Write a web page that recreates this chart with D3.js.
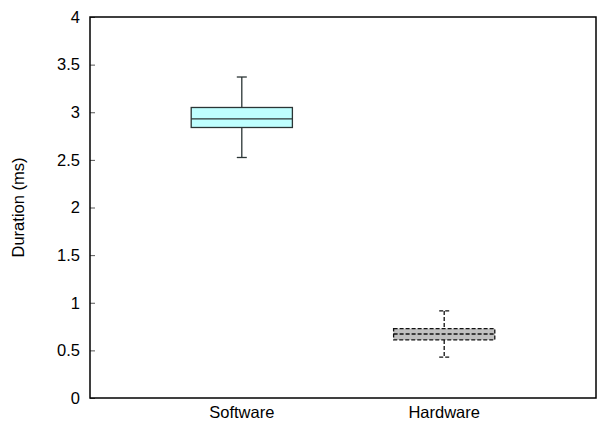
<!DOCTYPE html>
<html>
<head>
<meta charset="utf-8">
<script src="https://cdn.jsdelivr.net/npm/d3@7"></script>
<style>
  body { margin: 0; background: #fff; }
  svg text { font-family: "Liberation Sans", Arial, sans-serif; fill: #000; }
</style>
</head>
<body>
<div id="chart"></div>
<script>
// box plot data (ms)
const categories = ["Software", "Hardware"];
const whiskerLow = [2.525, 0.43];
const quartile1 = [2.84, 0.61];
const medians = [2.93, 0.672];
const quartile3 = [3.05, 0.728];
const whiskerHigh = [3.37, 0.914];
const yTicks = [0, 0.5, 1, 1.5, 2, 2.5, 3, 3.5, 4];

const canvasWidth = 598;
const canvasHeight = 425;
const margin = { top: 17, right: 2, bottom: 27, left: 90 };
const fontSize = 16.5;

const boxStyles = [
    { fill: "#bfffff", stroke: "#2b3535", dash: null },
    { fill: "#c0c0c0", stroke: "#111", dash: "4,2" }
];

const svg = d3.select("#chart")
    .append("svg")
    .attr("width", canvasWidth)
    .attr("height", canvasHeight);

const xScale = d3.scaleLinear()
    .domain([0.25, 2.75])
    .range([margin.left, canvasWidth - margin.right]);
const yScale = d3.scaleLinear()
    .domain([0, 4])
    .range([canvasHeight - margin.bottom, margin.top]);

const boxHalf = 0.25;
const capHalf = 5;

// y axis: inward ticks
const yAxis = d3.axisLeft(yScale)
    .tickValues(yTicks)
    .tickSize(-5)
    .tickPadding(10)
    .tickFormat(d => d);

svg.append("g")
    .attr("class", "y-axis")
    .attr("transform", `translate(${margin.left},0)`)
    .call(yAxis)
    .call(g => g.select(".domain").remove())
    .call(g => g.selectAll("line").attr("stroke", "#555"))
    .call(g => g.selectAll("text").attr("font-size", fontSize).attr("fill", "#000"));

// category labels
svg.append("g")
    .selectAll("text")
    .data(categories)
    .join("text")
    .attr("x", (d, i) => xScale(i + 1))
    .attr("y", canvasHeight - 7)
    .attr("text-anchor", "middle")
    .attr("font-size", fontSize)
    .text(d => d);

// y label
svg.append("text")
    .attr("transform", `translate(24,${(yScale(0) + yScale(4)) / 2}) rotate(-90)`)
    .attr("text-anchor", "middle")
    .attr("font-size", fontSize)
    .text("Duration (ms)");

const boxes = svg.selectAll(".box")
    .data(categories)
    .join("g")
    .attr("class", "box");

boxes.each(function (d, i) {
    const g = d3.select(this);
    const st = boxStyles[i];
    const cx = xScale(i + 1);
    const x0 = xScale(i + 1 - boxHalf);
    const x1 = xScale(i + 1 + boxHalf);

    // whiskers
    g.append("line")
        .attr("x1", cx).attr("x2", cx)
        .attr("y1", yScale(whiskerHigh[i])).attr("y2", yScale(quartile3[i]))
        .attr("stroke", st.stroke).attr("stroke-width", 1.3)
        .attr("stroke-dasharray", st.dash);
    g.append("line")
        .attr("x1", cx).attr("x2", cx)
        .attr("y1", yScale(quartile1[i])).attr("y2", yScale(whiskerLow[i]))
        .attr("stroke", st.stroke).attr("stroke-width", 1.3)
        .attr("stroke-dasharray", st.dash);
    [whiskerHigh[i], whiskerLow[i]].forEach(v => {
        g.append("line")
            .attr("x1", cx - capHalf).attr("x2", cx + capHalf)
            .attr("y1", yScale(v)).attr("y2", yScale(v))
            .attr("stroke", st.stroke).attr("stroke-width", 1.3)
            .attr("stroke-dasharray", st.dash);
    });

    // box
    g.append("rect")
        .attr("x", x0)
        .attr("y", yScale(quartile3[i]))
        .attr("width", x1 - x0)
        .attr("height", yScale(quartile1[i]) - yScale(quartile3[i]))
        .attr("fill", st.fill)
        .attr("stroke", st.stroke).attr("stroke-width", 1.3)
        .attr("stroke-dasharray", st.dash);

    // median
    g.append("line")
        .attr("x1", x0).attr("x2", x1)
        .attr("y1", yScale(medians[i])).attr("y2", yScale(medians[i]))
        .attr("stroke", st.stroke).attr("stroke-width", 1.3)
        .attr("stroke-dasharray", st.dash);
});

// frame
svg.append("rect")
    .attr("x", margin.left)
    .attr("y", margin.top)
    .attr("width", canvasWidth - margin.right - margin.left)
    .attr("height", canvasHeight - margin.bottom - margin.top)
    .attr("fill", "none")
    .attr("stroke", "#000")
    .attr("stroke-width", 1.5);
</script>
</body>
</html>
